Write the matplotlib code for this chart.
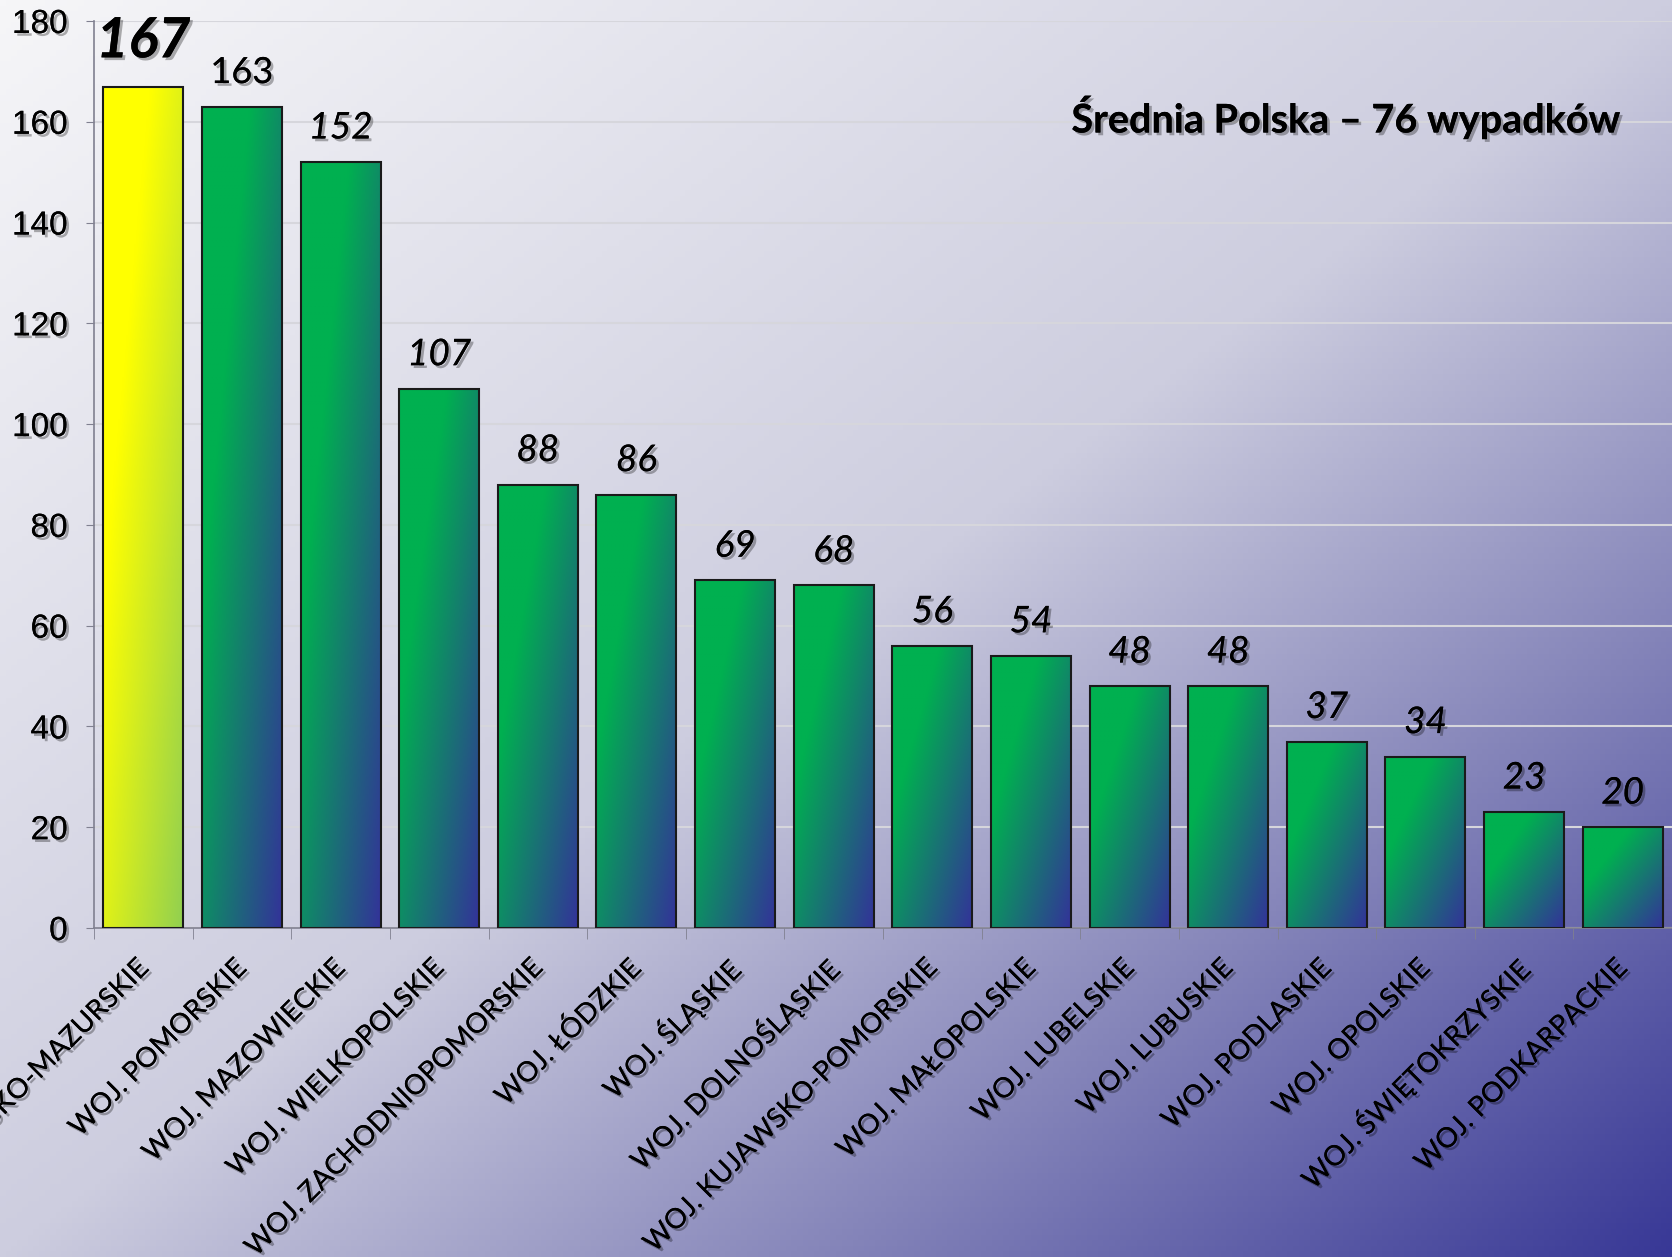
import numpy as np
import matplotlib
matplotlib.use('Agg')
import matplotlib.pyplot as plt
import matplotlib.patheffects as pe
from matplotlib.colors import to_rgb

# dane
wojewodztwa = ["WOJ. WARMIŃSKO-MAZURSKIE", "WOJ. POMORSKIE", "WOJ. MAZOWIECKIE",
               "WOJ. WIELKOPOLSKIE", "WOJ. ZACHODNIOPOMORSKIE", "WOJ. ŁÓDZKIE",
               "WOJ. ŚLĄSKIE", "WOJ. DOLNOŚLĄSKIE", "WOJ. KUJAWSKO-POMORSKIE",
               "WOJ. MAŁOPOLSKIE", "WOJ. LUBELSKIE", "WOJ. LUBUSKIE",
               "WOJ. PODLASKIE", "WOJ. OPOLSKIE", "WOJ. ŚWIĘTOKRZYSKIE",
               "WOJ. PODKARPACKIE"]
wypadki = [167, 163, 152, 107, 88, 86, 69, 68, 56, 54, 48, 48, 37, 34, 23, 20]
srednia = 76

W, H = 1672, 1257
fig = plt.figure(figsize=(W / 100, H / 100), dpi=100)

# gradient po przekatnej (lewy gorny -> prawy dolny)
def gradient(stops, nx, ny):
    xx, yy = np.meshgrid(np.linspace(0, 1, nx), np.linspace(0, 1, ny))
    t = (xx + yy) / 2
    pos = [s[0] for s in stops]
    cols = np.array([to_rgb(s[1]) for s in stops])
    img = np.zeros((ny, nx, 3))
    for k in range(3):
        img[..., k] = np.interp(t, pos, cols[:, k])
    return img

bg = fig.add_axes([0, 0, 1, 1], zorder=-1)
bg.imshow(gradient([(0, '#f6f6f8'), (0.5, '#cdcddf'), (0.75, '#8484b9'), (1, '#383896')], 300, 225),
          aspect='auto', extent=[0, 1, 0, 1], origin='upper')
bg.axis('off')

ax = fig.add_axes([94 / W, 1 - 928 / H, 1 - 94 / W, (928 - 21) / H])
ax.set_facecolor('none')

shadow = [pe.withSimplePatchShadow(offset=(2, -2), shadow_rgbFace='black', alpha=0.3), pe.Normal()]

green = [(0, '#00b050'), (0.3, '#00b050'), (1, '#333399')]
yellow = [(0, '#ffff00'), (0.3, '#ffff00'), (1, '#92d050')]
szer = 0.81
x = np.arange(len(wypadki))
bars = ax.bar(x, wypadki, width=szer, facecolor='none', edgecolor='#1a1a1a', linewidth=1.5, zorder=4)
for i, b in enumerate(bars):
    g = gradient(yellow if i == 0 else green, 60, 120)
    ax.imshow(g, extent=[b.get_x(), b.get_x() + b.get_width(), 0, b.get_height()],
              aspect='auto', origin='upper', zorder=3)

ax.set_xlim(-0.5, len(wypadki) - 0.5)
ax.set_ylim(0, 180)
ax.set_yticks(np.arange(0, 181, 20))
ax.yaxis.grid(True, color='#d6d6dc', linewidth=1.5, zorder=1)
ax.set_axisbelow(True)

for s in ['top', 'right']:
    ax.spines[s].set_visible(False)
for s in ['left', 'bottom']:
    ax.spines[s].set_color('#808090')
    ax.spines[s].set_linewidth(1.2)

ax.tick_params(axis='y', length=6, color='#808090', pad=13, labelsize=24)
for lab in ax.get_yticklabels():
    lab.set_fontfamily('Liberation Sans')
    lab.set_path_effects(shadow)

ax.set_xticks(x)
ax.set_xticks(np.arange(-0.5, len(wypadki)), minor=True)
ax.tick_params(axis='x', which='major', length=0, pad=26)
ax.tick_params(axis='x', which='minor', length=8, color='#808090')
ax.set_xticklabels(wojewodztwa, rotation=45, ha='right', va='center',
                   rotation_mode='anchor', fontsize=20, family=['Lato', 'DejaVu Sans'])
for lab in ax.get_xticklabels():
    lab.set_path_effects(shadow)

# etykiety wartosci
for i, v in enumerate(wypadki):
    if i == 0:
        kw = dict(fontsize=40, fontweight='bold', fontstyle='italic')
        off = 21
    elif i == 1:
        kw = dict(fontsize=26)
        off = 17
    else:
        kw = dict(fontsize=26.5, fontstyle='italic')
        off = 17
    ax.annotate(str(v), (i, v), xytext=(0, off), textcoords='offset points',
                ha='center', va='baseline', family=['Lato', 'DejaVu Sans'],
                path_effects=shadow, zorder=5, **kw)

fig.text(1621 / W, 1 - 117 / H, "Średnia Polska – %d wypadków" % srednia, ha='right', va='center',
         fontsize=28.5, fontweight='bold', family=['Lato', 'DejaVu Sans'], path_effects=shadow)

fig.savefig('out.png', dpi=100)
